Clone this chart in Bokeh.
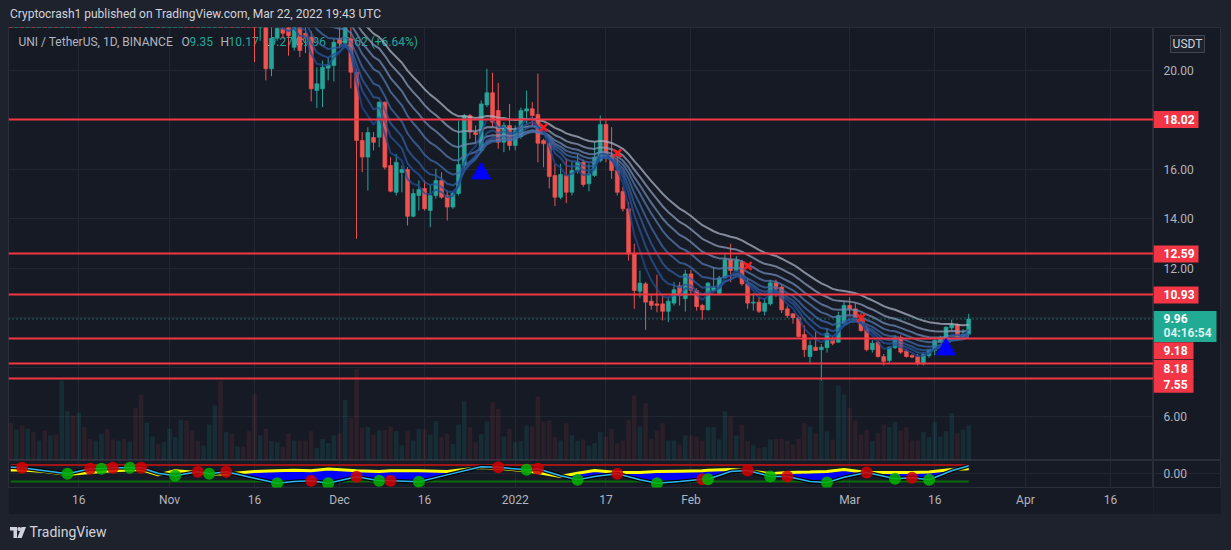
import numpy as np
import pandas as pd
from bokeh.plotting import figure
from bokeh.layouts import column, row
from bokeh.models import Range1d, FixedTicker, Grid, Label, Span, Div
from bokeh.core.properties import value
from bokeh.embed import file_html
from bokeh.resources import INLINE

# ------------------------------------------------------------------ data
publisher_line = "Cryptocrash1 published on TradingView.com, Mar 22, 2022 19:43 UTC"
symbol = "UNI / TetherUS, 1D, BINANCE"
quote_unit = "USDT"
origin_date = "2021-10-01"
first_date = "2021-10-04"

opens = [
    24.6, 24.0, 24.8, 24.3, 24.9, 24.4, 24.9, 24.5, 25.0, 24.2,
    26.0, 26.4, 25.8, 26.2, 25.5, 25.2, 25.6, 26.1, 25.6, 25.4,
    25.8, 25.5, 26.0, 25.2, 23.6, 24.6, 25.0, 24.7, 25.1, 25.7,
    26.0, 26.8, 26.2, 25.8, 25.5, 25.8, 26.2, 27.0, 25.0, 25.4,
    24.8, 25.1, 24.6, 23.0, 21.9, 22.3, 20.07, 21.3, 21.7, 21.9,
    20.94, 21.85, 21.5, 21.34, 19.19, 19.26, 20.09, 20.2, 21.3, 21.1,
    21.28, 19.93, 17.17, 16.5, 17.29, 17.3, 18.72, 16.16, 15.08, 15.88,
    16.0, 14.11, 14.95, 15.23, 14.34, 14.95, 15.56, 14.95, 14.48, 15.03,
    16.16, 18.18, 17.49, 16.77, 18.61, 19.1, 18.38, 17.1, 17.78, 16.97,
    17.33, 18.36, 18.45, 18.22, 17.17, 17.06, 15.76, 14.88, 15.76, 15.08,
    15.96, 16.29, 15.42, 15.76, 16.36, 17.82, 16.57, 15.96, 15.11, 14.41,
    12.59, 11.08, 11.38, 10.68, 10.57, 10.57, 10.27, 10.6, 11.3, 10.78,
    11.78, 11.11, 10.51, 10.33, 11.11, 11.0, 11.62, 12.35, 11.92, 12.25,
    11.38, 10.6, 10.64, 10.27, 10.57, 11.42, 11.25, 10.37, 10.17, 10.01,
    9.33, 8.44, 8.82, 8.72, 8.8, 9.16, 9.02, 9.77, 10.51, 10.37,
    10.01, 9.56, 8.72, 9.02, 8.44, 8.28, 8.8, 9.22, 8.66, 8.48,
    8.44, 8.15, 8.48, 8.69, 9.02, 9.2, 9.6, 9.74, 9.27, 9.35,
]
highs = [
    25.0, 25.1, 25.2, 25.3, 25.2, 25.2, 25.3, 25.4, 25.3, 26.5,
    26.9, 26.7, 26.6, 26.5, 25.9, 25.9, 26.4, 26.3, 25.9, 26.1,
    26.0, 26.3, 26.2, 25.5, 24.9, 25.3, 25.2, 25.4, 25.9, 26.3,
    27.2, 27.0, 26.5, 26.1, 26.1, 26.5, 27.4, 27.5, 25.7, 25.6,
    25.4, 25.3, 24.8, 23.2, 22.8, 22.6, 21.9, 22.2, 22.0, 22.1,
    22.2, 22.0, 21.9, 21.6, 20.13, 20.4, 20.54, 21.3, 22.0, 22.3,
    21.8, 20.07, 17.51, 17.71, 17.51, 18.75, 18.75, 16.5, 16.63, 16.16,
    16.1, 15.22, 15.56, 15.56, 15.35, 16.03, 15.89, 15.15, 15.08, 17.98,
    18.25, 18.25, 17.78, 18.79, 20.07, 19.91, 19.5, 17.91, 18.65, 17.78,
    18.5, 19.19, 18.72, 19.87, 17.24, 17.17, 16.23, 16.23, 16.43, 16.3,
    16.6, 16.4, 16.23, 17.1, 18.18, 17.98, 17.71, 16.5, 15.3, 14.68,
    13.0, 11.92, 11.45, 10.91, 11.75, 10.91, 10.87, 11.45, 11.45, 11.95,
    11.95, 11.2, 10.57, 11.45, 12.05, 11.7, 12.59, 13.0, 12.5, 12.35,
    11.58, 11.0, 10.85, 10.78, 11.55, 11.55, 11.35, 10.5, 10.19, 10.1,
    9.7, 9.09, 9.45, 8.95, 9.6, 9.25, 10.25, 10.65, 10.84, 10.6,
    10.2, 9.7, 9.1, 9.1, 8.55, 8.85, 9.3, 9.3, 8.75, 8.55,
    8.55, 8.6, 8.72, 9.2, 9.28, 9.67, 9.93, 9.78, 9.55, 10.17,
]
lows = [
    23.7, 23.8, 24.0, 24.1, 24.1, 24.2, 24.2, 24.3, 23.9, 24.0,
    25.6, 25.5, 25.5, 25.2, 24.9, 25.0, 25.3, 25.3, 25.1, 25.2,
    25.2, 25.3, 24.9, 23.2, 23.4, 24.3, 24.3, 24.5, 24.9, 25.4,
    25.8, 25.9, 25.5, 25.2, 25.3, 25.6, 26.0, 24.5, 24.7, 24.5,
    24.6, 24.3, 22.7, 20.34, 21.2, 19.6, 19.77, 21.2, 21.3, 20.6,
    20.8, 20.54, 20.7, 18.75, 18.48, 18.52, 19.6, 19.56, 20.9, 20.95,
    19.28, 13.2, 15.89, 15.15, 16.77, 16.9, 16.0, 15.08, 14.95, 15.08,
    13.74, 14.07, 14.34, 14.34, 13.67, 14.82, 14.82, 13.94, 14.41, 14.95,
    16.03, 17.24, 17.1, 16.7, 18.52, 17.71, 16.84, 16.7, 16.77, 16.77,
    17.24, 17.85, 17.78, 16.29, 16.09, 15.24, 14.52, 14.8, 14.64, 14.95,
    15.83, 15.3, 15.12, 15.7, 16.29, 16.29, 15.62, 14.95, 14.3, 12.32,
    10.37, 10.82, 9.52, 10.33, 10.23, 9.9, 9.83, 10.5, 10.5, 10.26,
    10.95, 10.3, 9.93, 10.3, 11.08, 10.95, 11.58, 11.45, 11.85, 11.3,
    10.37, 10.3, 10.2, 10.1, 10.5, 10.85, 10.2, 10.0, 9.77, 9.2,
    8.42, 8.15, 8.69, 7.47, 8.6, 8.9, 9.0, 9.7, 10.1, 9.95,
    9.45, 8.65, 8.6, 8.4, 8.08, 8.2, 8.75, 8.55, 8.4, 8.38,
    8.08, 8.08, 8.4, 8.5, 9.0, 9.15, 9.49, 9.22, 9.2, 9.27,
]
closes = [
    24.0, 24.8, 24.3, 24.9, 24.4, 24.9, 24.5, 25.0, 24.2, 26.0,
    26.4, 25.8, 26.2, 25.5, 25.2, 25.6, 26.1, 25.6, 25.4, 25.8,
    25.5, 26.0, 25.2, 23.6, 24.6, 25.0, 24.7, 25.1, 25.7, 26.0,
    26.8, 26.2, 25.8, 25.5, 25.8, 26.2, 27.0, 25.0, 25.4, 24.8,
    25.1, 24.6, 23.0, 21.9, 22.3, 20.07, 21.29, 21.7, 21.5, 21.4,
    21.9, 20.81, 21.34, 19.26, 19.46, 20.13, 20.23, 21.14, 21.1, 21.75,
    19.93, 17.17, 16.5, 17.49, 17.1, 18.72, 16.09, 15.12, 16.29, 16.0,
    14.11, 15.03, 15.19, 14.41, 14.95, 15.56, 14.88, 14.48, 15.03, 16.2,
    18.18, 17.51, 17.41, 18.65, 19.1, 17.91, 17.1, 17.78, 16.97, 17.58,
    18.38, 18.45, 18.18, 17.06, 17.04, 15.72, 14.88, 15.8, 15.08, 15.96,
    16.29, 15.39, 15.83, 16.5, 17.82, 16.63, 15.96, 15.08, 14.41, 12.59,
    11.11, 11.41, 10.64, 10.51, 10.51, 10.27, 10.68, 11.14, 10.9, 11.78,
    11.11, 10.46, 10.33, 11.41, 11.22, 11.62, 12.35, 11.92, 12.32, 11.38,
    10.6, 10.64, 10.27, 10.6, 11.42, 11.18, 10.33, 10.1, 10.01, 9.25,
    8.72, 8.89, 8.69, 8.82, 9.39, 8.98, 10.1, 10.51, 10.37, 10.01,
    9.49, 8.72, 8.98, 8.44, 8.25, 8.82, 9.2, 8.62, 8.44, 8.42,
    8.17, 8.53, 8.72, 9.09, 9.2, 9.63, 9.72, 9.25, 9.34, 9.96,
]
volumes = [
    112, 92, 105, 95, 85, 60, 90, 75, 78, 240,
    148, 135, 143, 100, 65, 60, 80, 95, 63, 60,
    65, 57, 157, 198, 113, 72, 50, 55, 95, 70,
    122, 120, 90, 60, 45, 108, 165, 240, 85, 80,
    42, 42, 88, 200, 75, 95, 58, 55, 42, 80,
    60, 60, 60, 88, 38, 65, 52, 75, 80, 182,
    128, 275, 98, 100, 78, 90, 92, 102, 88, 45,
    88, 60, 95, 95, 78, 118, 70, 80, 50, 108,
    177, 100, 55, 80, 117, 175, 155, 72, 95, 55,
    58, 105, 102, 192, 117, 120, 70, 60, 112, 75,
    58, 63, 45, 52, 85, 72, 95, 52, 60, 122,
    195, 102, 172, 65, 90, 112, 60, 60, 48, 75,
    75, 72, 60, 100, 100, 63, 147, 132, 75, 108,
    58, 45, 37, 40, 63, 65, 65, 60, 48, 65,
    112, 102, 82, 242, 87, 63, 225, 198, 158, 120,
    78, 92, 58, 82, 108, 100, 115, 90, 100, 60,
    60, 85, 70, 115, 72, 88, 142, 82, 92, 105,
]

levels = [18.02, 12.59, 10.93, 9.18, 8.18, 7.55]
countdown = "04:16:54"

tick_dates = ["2021-10-16", "2021-11-01", "2021-11-16", "2021-12-01", "2021-12-16",
              "2022-01-01", "2022-01-17", "2022-02-01", "2022-03-01", "2022-03-16",
              "2022-04-01", "2022-04-16"]
tick_labels = ["16", "Nov", "16", "Dec", "16", "2022", "17", "Feb", "Mar", "16", "Apr", "16"]
price_ticks = [6, 8, 10, 12, 14, 16, 18, 20]
hidden_price_ticks = [8, 10, 18]

ema_spans = [38, 31, 25, 20, 15, 11, 8, 5]

buy_dates = ["2021-12-26", "2022-03-18"]
buy_prices = [15.84, 8.73]
sell_dates = ["2022-01-06", "2022-01-19", "2022-02-11", "2022-03-03"]
sell_prices = [17.7, 16.66, 12.1, 10.0]

# oscillator pane (x in days since origin_date)
osc_days = [3, 5, 9, 13, 17, 19, 21, 24, 26, 29,
            32, 36, 38, 41, 46, 50, 53, 56, 59, 64,
            68, 70, 75, 80, 86, 89, 94, 96, 100, 103,
            106, 110, 114, 117, 121, 125, 126, 130, 133, 137,
            140, 144, 147, 150, 154, 159, 162, 165, 169, 172]
osc_fast = [0.75, 0.66, 0.3, -0.07, 0.54, 0.54, 0.66, 0.66, 0.66, 0.0,
            -0.32, 0.17, -0.07, 0.17, -0.6, -1.22, -1.0, -0.93, -1.22, -0.44,
            -0.93, -0.93, -1.05, -0.2, 0.8, 0.73, 0.41, 0.54, -0.3, -0.81,
            -0.4, -0.07, -0.8, -1.22, -1.0, -0.73, -0.73, 0.2, 0.33, -0.4,
            -0.4, -1.0, -1.13, -0.5, 0.09, -0.68, -0.56, -0.8, 0.3, 0.9]
osc_slow = [0.4, 0.4, 0.2, -0.16, 0.1, 0.2, 0.3, 0.4, 0.45, -0.2,
            0.3, 0.1, -0.1, -0.1, 0.2, 0.3, 0.35, 0.3, 0.5, 0.3,
            0.2, 0.3, 0.3, 0.2, 0.7, 0.6, 0.3, 0.1, -0.4, 0.0,
            0.33, 0.1, 0.1, 0.2, 0.25, 0.3, 0.35, 0.45, 0.3, -0.05,
            0.1, 0.15, 0.2, 0.45, 0.1, 0.1, 0.1, 0.15, 0.45, 0.55]
osc_upper = 1.0
osc_lower = -1.0
osc_ticks = [0]
dot_days = [5, 13, 17, 19, 21, 24, 26, 32, 36, 38,
            41, 50, 56, 59, 64, 68, 70, 75, 89, 94,
            96, 103, 110, 117, 125, 126, 133, 137, 140, 147,
            154, 159, 162, 165]
dot_values = [0.66, -0.07, 0.54, 0.54, 0.66, 0.66, 0.66, -0.32, 0.17, -0.07,
              0.17, -1.22, -0.93, -1.22, -0.44, -0.93, -0.93, -1.05, 0.73, 0.41,
              0.54, -0.81, -0.07, -1.22, -0.73, -0.73, 0.33, -0.40, -0.40, -1.13,
              0.09, -0.68, -0.56, -0.80]
dot_kinds = ["dn", "up"] * 17

# ------------------------------------------------------------------ style
PAGE = "#1e222d"
BG = "#161a25"
GRID = "#232733"
BORDER = "#2a2e39"
TXT = "#b2b5be"
UP = "#26a69a"
DN = "#ef5350"
LEVEL = "#f23645"
TEAL = "#22ab94"
FONT = "Roboto"
FW, AXW, MH = 1145, 68, 433
Y0, Y1 = 4.242, 21.737
PPX = (Y1 - Y0) / MH          # price units per pixel in the main pane

origin = pd.Timestamp(origin_date)
dates = pd.date_range(first_date, periods=len(closes), freq="D")
day = np.asarray((dates - origin).days, dtype=float)


def to_day(ds):
    return [float((pd.Timestamp(d) - origin).days) for d in ds]


o = np.array(opens); h = np.array(highs); l = np.array(lows); c = np.array(closes)
up = c >= o
col = np.where(up, UP, DN)
tick_days = to_day(tick_dates)
x_range = Range1d(2.6, 204.6)
y_range = Range1d(Y0, Y1)


def hide_default_grids(f):
    for g in f.grid:
        g.grid_line_color = None


def panel(width, height, xr, yr, bottom=0, left_margin=0):
    f = figure(width=width, height=height, x_range=xr, y_range=yr, output_backend="svg",
               toolbar_location=None, x_axis_location=None, y_axis_location=None,
               min_border_left=0, min_border_right=0, min_border_top=0,
               min_border_bottom=bottom, background_fill_color=BG, border_fill_color=BG,
               outline_line_color=BORDER, margin=(0, 0, 0, left_margin))
    hide_default_grids(f)
    return f


# ------------------------------------------------------------------ main pane
p = panel(FW, MH, x_range, y_range, left_margin=8)
p.extra_y_ranges = {"vol": Range1d(0, 1299)}
p.add_layout(Grid(dimension=0, ticker=FixedTicker(ticks=tick_days), grid_line_color=GRID))
p.add_layout(Grid(dimension=1, ticker=FixedTicker(ticks=price_ticks), grid_line_color=GRID))

last = len(closes) - 1
chg = closes[last] - closes[last - 1]
pct = chg / closes[last - 1] * 100
pieces = [(symbol, 10, TXT), ("O", 173, TXT), (f"{opens[last]:.2f}", 181, UP),
          ("H", 212, TXT), (f"{highs[last]:.2f}", 220, UP), ("L", 255, TXT),
          (f"{lows[last]:.2f}", 261, UP), ("C", 287, TXT), (f"{closes[last]:.2f}", 294, UP),
          (f"{chg:+.2f} ({pct:+.2f}%)", 329, UP)]
for txt, xs, tc in pieces:
    p.add_layout(Label(x=xs, y=419, x_units="screen", y_units="screen", text=txt,
                       text_color=tc, text_font=FONT, text_font_size="12px",
                       text_baseline="middle", level="underlay"))

p.vbar(x=day, top=volumes, bottom=0, width=0.8, y_range_name="vol",
       fill_color=col, line_color=None, fill_alpha=np.where(up, 0.14, 0.10))
p.segment(x0=day, y0=l, x1=day, y1=h, line_color=col, line_width=1)
p.vbar(x=day, top=np.maximum(o, c), bottom=np.minimum(o, c), width=0.7,
       fill_color=col, line_color=col, line_width=0.6)

ema_colors = ["#aab2c2", "#8c9cb8", "#6f8ab4", "#5579ae", "#3f6aa8", "#305ea3",
              "#27559d", "#1f4b94"]
cs = pd.Series(closes)
for span_n, ec in zip(ema_spans, ema_colors):
    ema = cs.ewm(span=span_n, adjust=False).mean().to_numpy()
    p.line(day, ema, line_color=ec, line_width=2, line_alpha=0.75)

p.hspan(y=levels, line_color=LEVEL, line_width=2)
p.add_layout(Span(location=closes[last], dimension="width", line_color=TEAL,
                  line_dash="1 3", line_width=1))
p.scatter(to_day(buy_dates), buy_prices, marker="triangle", size=19,
          fill_color="#0000ff", line_color="#0000ff")
p.scatter(to_day(sell_dates), sell_prices, marker="x", size=11,
          line_color="#ff1a1a", line_width=2.5)

# ------------------------------------------------------------------ price scale panel
pa = panel(AXW, MH, Range1d(0, AXW), y_range)
shown = [t for t in price_ticks if t not in hidden_price_ticks]
pa.text(x=[10] * len(shown), y=shown, text=[f"{t:.2f}" for t in shown],
        text_font=value(FONT), text_font_size="12px", text_color=TXT,
        text_baseline="middle", text_align="left")

cur = closes[last]
pa.quad(left=0, right=63, bottom=cur - 23 * PPX, top=cur + 8 * PPX,
        fill_color=TEAL, line_color=None)
pa.text(x=[10, 10], y=[cur, cur - 14.5 * PPX], text=[f"{cur:.2f}", countdown],
        text_font=value(FONT), text_font_size="12px", text_color=["#ffffff", "#d9f2ee"],
        text_font_style="bold", text_baseline="middle", text_align="left")

tag_shift = np.array([0, 0, 0, -12.5, -5.5, -5.5]) * PPX
tag_y = np.array(levels) + tag_shift
tag_txt = [f"{v:.2f}" for v in levels]
tag_w = [20 + 5 * len(t) for t in tag_txt]
pa.quad(left=0, right=tag_w, bottom=tag_y - 8.5 * PPX, top=tag_y + 8.5 * PPX,
        fill_color=LEVEL, line_color=None)
pa.text(x=[10] * len(levels), y=tag_y, text=tag_txt, text_font=value(FONT),
        text_font_size="12px", text_font_style="bold", text_color="white",
        text_baseline="middle", text_align="left")

usdt_y = Y1 - 16.5 * PPX
pa.quad(left=17, right=51, bottom=usdt_y - 8.5 * PPX, top=usdt_y + 8.5 * PPX,
        fill_color=PAGE, line_color="#434651", line_width=1)
pa.text(x=[34], y=[usdt_y], text=[quote_unit], text_font=value(FONT),
        text_font_size="12px", text_color="#d1d4dc", text_baseline="middle",
        text_align="center")

# ------------------------------------------------------------------ oscillator pane
oy = Range1d(-1.74, 1.55)
q = figure(width=FW, height=54, x_range=x_range, y_range=oy, output_backend="svg",
           toolbar_location=None, y_axis_location=None, min_border_left=0,
           min_border_right=0, min_border_top=0, min_border_bottom=27,
           background_fill_color=BG, border_fill_color=BG, outline_line_color=BORDER,
           margin=(0, 0, 0, 8))
hide_default_grids(q)
xa = q.xaxis[0]
xa.ticker = FixedTicker(ticks=tick_days)
xa.major_label_overrides = {d: lab for d, lab in zip(tick_days, tick_labels)}
xa.major_tick_line_color = None
xa.major_tick_out = 0
xa.major_tick_in = 0
xa.minor_tick_line_color = None
xa.axis_line_color = None
xa.major_label_text_color = TXT
xa.major_label_text_font = FONT
xa.major_label_text_font_size = "12px"
xa.major_label_standoff = 5
q.add_layout(Grid(dimension=0, ticker=FixedTicker(ticks=tick_days), grid_line_color=GRID))
q.add_layout(Grid(dimension=1, ticker=FixedTicker(ticks=osc_ticks), grid_line_color=GRID))

q.varea(x=osc_days, y1=osc_fast, y2=osc_slow, fill_color="#0000ff")
q.segment(x0=[day[0]], x1=[day[-1]], y0=[osc_upper], y1=[osc_upper],
          line_color="#a31515", line_width=2)
q.segment(x0=[day[0]], x1=[day[-1]], y0=[osc_lower], y1=[osc_lower],
          line_color="#0b6b0b", line_width=2)
q.line(osc_days, osc_slow, line_color="#ffff00", line_width=3)
q.line(osc_days, osc_fast, line_color="#000000", line_width=4, line_alpha=0.9)
q.line(osc_days, osc_fast, line_color="#29b6f6", line_width=1.5)
dot_col = ["#00b400" if k == "up" else "#d40000" for k in dot_kinds]
q.scatter(dot_days, dot_values, marker="circle", size=12, fill_color=dot_col,
          line_color=None, fill_alpha=0.85)

qa = panel(AXW, 54, Range1d(0, AXW), oy, bottom=27)
qa.add_layout(Grid(dimension=1, ticker=FixedTicker(ticks=osc_ticks), grid_line_color=GRID))
qa.text(x=[10] * len(osc_ticks), y=osc_ticks, text=[f"{t:.2f}" for t in osc_ticks],
        text_font=value(FONT), text_font_size="12px", text_color=TXT,
        text_baseline="middle", text_align="left")

# ------------------------------------------------------------------ header / footer
header = Div(text=f'<div style="font-family:Roboto;font-size:12px;line-height:14px;'
                  f'color:#d1d4dc;padding-left:10px;padding-top:7px;white-space:nowrap">'
                  f'{publisher_line}</div>',
             width=1231, height=27, margin=(0, 0, 0, 0))
logo = ('<svg width="16" height="11" viewBox="0 0 16 11" style="vertical-align:-1px">'
        '<path d="M0 0h7v11h-3.5v-7.5h-3.5z" fill="#d1d4dc"/>'
        '<circle cx="9.2" cy="2" r="1.9" fill="#d1d4dc"/>'
        '<path d="M11.6 0h4.4l-4.3 11h-4.4z" fill="#d1d4dc"/></svg>')
footer = Div(text=f'<div style="font-family:Roboto;font-size:14px;line-height:16px;'
                  f'color:#d1d4dc;padding-left:10px;padding-top:10px;white-space:nowrap">'
                  f'{logo}&nbsp;TradingView</div>',
             width=1231, height=36, margin=(0, 0, 0, 0))

layout = column(header, row(p, pa, spacing=0), row(q, qa, spacing=0), footer, spacing=0)
html = file_html(layout, INLINE)
html = html.replace("<head>", "<head><style>html,body{background:#1e222d;}</style>", 1)
open("out.html", "w").write(html)
